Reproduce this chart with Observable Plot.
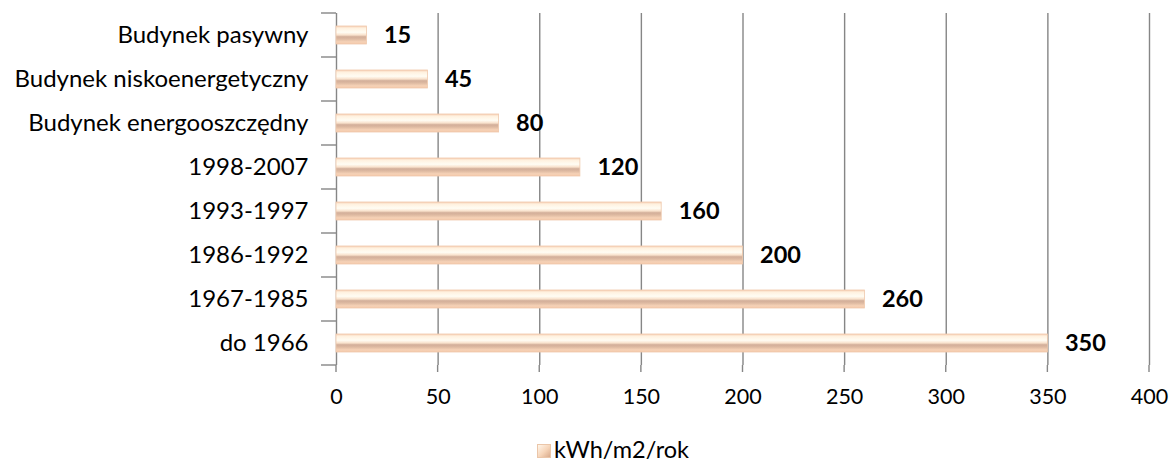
<!DOCTYPE html>
<html><head><meta charset="utf-8">
<script src="https://cdn.jsdelivr.net/npm/d3@7"></script>
<script src="https://cdn.jsdelivr.net/npm/@observablehq/plot@0.6"></script>
<style>
body{margin:0;background:#fff;font-family:Lato,"Noto Sans",sans-serif;}
#legend{position:absolute;left:537px;top:435px;font-size:23.5px;line-height:28px;color:#000;white-space:nowrap;}
#legend .sw{display:inline-block;width:14px;height:14px;margin-right:3px;vertical-align:0px;background:linear-gradient(135deg,#fff6ea,#f6d4b8 55%,#d9ab8c);border:1px solid #ebc6a9;box-sizing:border-box;}
</style></head>
<body>
<div id="chart"></div>
<div id="legend"><span class="sw"></span>kWh/m2/rok</div>
<script>
const categories = ["Budynek pasywny","Budynek niskoenergetyczny","Budynek energooszczędny","1998-2007","1993-1997","1986-1992","1967-1985","do 1966"];
const values = [15,45,80,120,160,200,260,350];
const xTicks = [0,50,100,150,200,250,300,350,400];
const seriesName = "kWh/m2/rok";

const data = categories.map((c,i)=>({cat:c, v:values[i]}));
const gray = "#868686";

const plot = Plot.plot({
  width: 1171,
  height: 420,
  marginLeft: 336,
  marginRight: 22,
  marginTop: 13,
  marginBottom: 55,
  style:{fontFamily:"Lato, 'Noto Sans', sans-serif", fontSize:"21.5px", color:"#000", background:"#fff"},
  x:{domain:[0,400], ticks:xTicks, label:null, tickSize:0, tickPadding:23},
  y:{domain:categories, label:null, paddingInner:0.59, paddingOuter:0.295, tickSize:0, tickPadding:28},
  marks:[
    Plot.axisY({tickSize:0, tickPadding:28, fontSize:24}),
    Plot.ruleX(xTicks, {stroke:gray, strokeWidth:1.4}),
    Plot.tickX(xTicks, {x:d=>d, stroke:gray, strokeWidth:1.4, render:(index,scales,values,dims,ctx,next)=>{
      const g = d3.create("svg:g");
      const yb = dims.height - dims.marginBottom;
      for (const t of xTicks){ g.append("line").attr("x1",scales.x(t)).attr("x2",scales.x(t)).attr("y1",yb).attr("y2",yb+7).attr("stroke",gray).attr("stroke-width",1.4); }
      const bw = scales.y.bandwidth ? scales.y.bandwidth() : 0;
      const step = scales.y.step ? scales.y.step() : bw;
      const x0 = scales.x(0);
      for (const c of categories){
        const yc = scales.y(c) + bw/2;
        g.append("line").attr("x1",x0-15).attr("x2",x0).attr("y1",yc-step/2).attr("y2",yc-step/2).attr("stroke",gray).attr("stroke-width",1.4);
      }
      g.append("line").attr("x1",x0-15).attr("x2",x0).attr("y1",yb).attr("y2",yb).attr("stroke",gray).attr("stroke-width",1.4);
      return g.node();
    }}),
    Plot.ruleY([0], {render:(i,s,v,d)=>{
      const yb = d.height - d.marginBottom;
      const g = d3.create("svg:g");
      g.append("line").attr("x1",s.x(0)).attr("x2",s.x(400)).attr("y1",yb).attr("y2",yb).attr("stroke",gray).attr("stroke-width",1.4);
      g.append("line").attr("x1",s.x(0)).attr("x2",s.x(0)).attr("y1",d.marginTop).attr("y2",yb).attr("stroke",gray).attr("stroke-width",1.4);
      return g.node();
    }}),
    Plot.barX(data, {x:"v", y:"cat", fill:"#f6d3b6", stroke:"#efc9ac", strokeWidth:0.8, className:"bevelbar"}),
    Plot.text(data, {x:"v", y:"cat", text:d=>String(d.v), textAnchor:"start", dx:17, fontWeight:"bold", fontSize:23.5})
  ]
});

const svg = d3.select(plot);
const defs = svg.insert("defs",":first-child");
const lg = defs.append("linearGradient").attr("id","barGrad").attr("x1",0).attr("y1",0).attr("x2",0).attr("y2",1);
[[0,"#f6d0b4"],[0.12,"#fff1df"],[0.35,"#fffcf3"],[0.5,"#f9e2cc"],[0.6,"#d2ae99"],[0.72,"#ddb9a1"],[0.88,"#f6d2b7"],[1,"#f3c8a9"]].forEach(([o,c])=>lg.append("stop").attr("offset",o).attr("stop-color",c));
svg.selectAll(".bevelbar rect").attr("fill","url(#barGrad)");

document.getElementById("chart").appendChild(plot);
</script>
</body></html>
